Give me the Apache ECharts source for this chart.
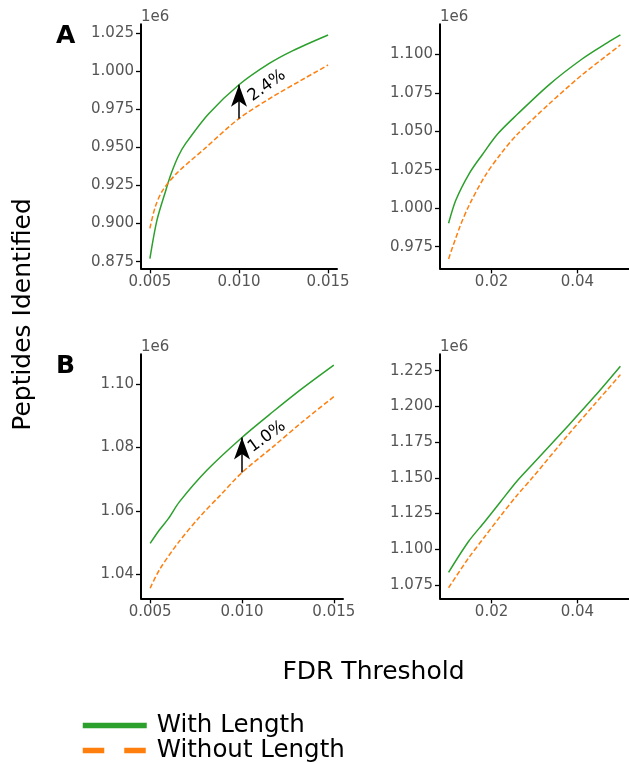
<!DOCTYPE html>
<html><head><meta charset="utf-8">
<script src="https://cdn.jsdelivr.net/npm/echarts@6/dist/echarts.min.js"></script>
<style>html,body{margin:0;padding:0;background:#fff}#c{width:629px;height:763px}</style>
</head><body><div id="c"></div>
<script>
// ---------- data (values in units of 1e6 peptides) ----------
const seriesNames = ['With Length', 'Without Length'];

// Panel A, narrow FDR range
const withLenA_narrow = [[0.005,0.877],[0.0054,0.9024],[0.0059,0.9221],[0.0062,0.933],[0.0066,0.9444],[0.007,0.9525],[0.0083,0.9722],[0.01,0.9912],[0.0117,1.0052],[0.013,1.0135],[0.015,1.0239]];
const withoutLenA_narrow = [[0.005,0.8969],[0.0053,0.911],[0.0057,0.9215],[0.0065,0.933],[0.008,0.9485],[0.01,0.969],[0.0119,0.9834],[0.0135,0.9942],[0.015,1.0042]];
// Panel A, wide FDR range
const withLenA_wide = [[0.01,0.9902],[0.0117,1.0053],[0.0148,1.0225],[0.0178,1.0346],[0.0215,1.0485],[0.026,1.061],[0.0335,1.0805],[0.041,1.0968],[0.047,1.1076],[0.05,1.1126]];
const withoutLenA_wide = [[0.01,0.967],[0.0125,0.987],[0.0148,1.002],[0.0185,1.021],[0.0222,1.0355],[0.026,1.048],[0.0335,1.068],[0.041,1.0865],[0.047,1.0996],[0.05,1.1061]];
// Panel B, narrow FDR range
const withLenB_narrow = [[0.005,1.0497],[0.0055,1.0539],[0.006,1.0576],[0.0066,1.0629],[0.0081,1.0729],[0.01,1.0832],[0.0117,1.0914],[0.0133,1.0988],[0.015,1.1061]];
const withoutLenB_narrow = [[0.005,1.0355],[0.0055,1.0413],[0.0065,1.0497],[0.0077,1.0581],[0.0088,1.0648],[0.01,1.0721],[0.0117,1.0803],[0.0133,1.0882],[0.015,1.0961]];
// Panel B, wide FDR range
const withLenB_wide = [[0.01,1.0839],[0.0146,1.1053],[0.0184,1.1193],[0.0221,1.1333],[0.0258,1.1473],[0.0296,1.1597],[0.038,1.187],[0.044,1.207],[0.05,1.2281]];
const withoutLenB_wide = [[0.01,1.0731],[0.0146,1.0937],[0.0184,1.1088],[0.0221,1.1233],[0.0258,1.1373],[0.0296,1.1504],[0.038,1.1807],[0.044,1.2015],[0.05,1.2222]];

// tick labels
const xTicksNarrow = [0.005, 0.010, 0.015];
const xTicksWide = [0.02, 0.04];
const yTicksA_narrow = [0.875, 0.900, 0.925, 0.950, 0.975, 1.000, 1.025];
const yTicksA_wide = [0.975, 1.000, 1.025, 1.050, 1.075, 1.100];
const yTicksB_narrow = [1.04, 1.06, 1.08, 1.10];
const yTicksB_wide = [1.075, 1.100, 1.125, 1.150, 1.175, 1.200, 1.225];

// annotations
const panelLetters = ['A', 'B'];
const gainLabels = ['2.4%', '1.0%'];
const annotFdr = 0.01;
const yTitle = 'Peptides Identified';
const xTitle = 'FDR Threshold';
const offsetText = '1e6';

// ---------- chart ----------
const FONT = 'DejaVu Sans';
const GREEN = '#2ca02c', ORANGE = '#ff7f0e', TICKC = '#555555';

function valAt(arr, x) { const p = arr.find(d => Math.abs(d[0] - x) < 1e-9); return p ? p[1] : null; }

const grids = [
  {left: 141, top: 24.33, width: 196, height: 244},
  {left: 440, top: 24.33, width: 196, height: 244},
  {left: 141, top: 354.33, width: 202, height: 244},
  {left: 440, top: 354.33, width: 196, height: 244}
];
const xRanges = [[0.0045,0.0155],[0.008,0.052],[0.0045,0.0155],[0.008,0.052]];
const yRanges = [[0.8706,1.0309],[0.9609,1.1195],[1.0323,1.1095],[1.0657,1.2364]];
const xTickSets = [xTicksNarrow, xTicksWide, xTicksNarrow, xTicksWide];
const xDec = [3,2,3,2];
const yTickSets = [yTicksA_narrow, yTicksA_wide, yTicksB_narrow, yTicksB_wide];
const yDec = [3,3,2,3];
const panelData = [
  [withLenA_narrow, withoutLenA_narrow],
  [withLenA_wide, withoutLenA_wide],
  [withLenB_narrow, withoutLenB_narrow],
  [withLenB_wide, withoutLenB_wide]
];

const axisLine = {show: true, onZero: false, lineStyle: {color: '#000', width: 2}};
const axisTickBase = {show: true, length: 5, lineStyle: {color: '#000', width: 1.3}};

const xAxis = grids.map((g, i) => ({
  type: 'value', gridIndex: i, min: xRanges[i][0], max: xRanges[i][1],
  axisLine, splitLine: {show: false},
  axisTick: Object.assign({customValues: xTickSets[i]}, axisTickBase),
  axisLabel: {customValues: xTickSets[i], formatter: v => v.toFixed(xDec[i]), color: TICKC,
              fontFamily: FONT, fontSize: 15, margin: 6, hideOverlap: false}
}));
const yAxis = grids.map((g, i) => ({
  type: 'value', gridIndex: i, min: yRanges[i][0], max: yRanges[i][1],
  axisLine, splitLine: {show: false},
  axisTick: Object.assign({customValues: yTickSets[i]}, axisTickBase),
  axisLabel: {customValues: yTickSets[i], formatter: v => v.toFixed(yDec[i]), color: TICKC,
              fontFamily: FONT, fontSize: 15, margin: 7, hideOverlap: false},
  name: offsetText, nameLocation: 'end', nameGap: 0,
  nameTextStyle: {align: 'left', verticalAlign: 'bottom', color: TICKC, fontFamily: FONT, fontSize: 15, padding: [0,0,0,0]}
}));

// label offsets are expressed in the rotated text frame
const ROT = 36 * Math.PI / 180;
function rotOffset(sx, sy) {
  return [sx * Math.cos(ROT) - sy * Math.sin(ROT), sx * Math.sin(ROT) + sy * Math.cos(ROT)];
}

const series = [];
panelData.forEach((pair, i) => {
  const [withArr, withoutArr] = pair;
  const isNarrow = (i === 0 || i === 2);
  const k = i === 0 ? 0 : 1;
  const w = {
    type: 'line', name: seriesNames[0], xAxisIndex: i, yAxisIndex: i, data: withArr,
    symbol: 'none', smooth: 0.3, color: GREEN,
    lineStyle: {color: GREEN, width: 1.5}, z: 3, animation: false
  };
  const o = {
    type: 'line', name: seriesNames[1], xAxisIndex: i, yAxisIndex: i, data: withoutArr,
    symbol: 'none', smooth: 0.3, color: ORANGE,
    lineStyle: {color: ORANGE, width: 1.5, type: [5, 2.5]}, z: 4, animation: false
  };
  if (isNarrow) {
    const gv = valAt(withArr, annotFdr), ov = valAt(withoutArr, annotFdr);
    w.markLine = {
      silent: true, animation: false,
      symbol: ['none', 'arrow'], symbolSize: [12, 22],
      lineStyle: {color: '#000', width: 1.5, type: 'solid'},
      label: {show: false},
      data: [[{coord: [annotFdr, ov]}, {coord: [annotFdr, gv]}]]
    };
    w.markPoint = {
      silent: true, animation: false, symbol: 'circle', symbolSize: 0,
      itemStyle: {color: 'rgba(0,0,0,0)'},
      label: {show: true, position: 'inside', formatter: gainLabels[k], rotate: 36,
              offset: k === 0 ? rotOffset(28, 1) : rotOffset(25, -0.7),
              color: '#000', fontFamily: FONT, fontSize: 16.5},
      data: [{coord: [annotFdr, gv]}]
    };
  }
  series.push(w, o);
});

const option = {
  animation: false,
  backgroundColor: '#fff',
  grid: grids,
  xAxis, yAxis, series,
  legend: {
    orient: 'vertical', left: 80, top: 713, height: 120, padding: 0, itemWidth: 64, itemHeight: 1, itemGap: 0,
    selectedMode: false,
    itemStyle: {color: 'rgba(0,0,0,0)', borderWidth: 0, opacity: 0},
    textStyle: {fontFamily: FONT, fontSize: 24.5, color: '#000', padding: [0,0,0,5]},
    data: [
      {name: seriesNames[0], lineStyle: {width: 5.5}},
      {name: seriesNames[1], lineStyle: {width: 5.5, type: [21.5, 20]}}
    ]
  },
  graphic: [
    {type: 'text', left: 56, top: 24, style: {text: panelLetters[0], font: 'bold 25px "DejaVu Sans"', fill: '#000'}},
    {type: 'text', left: 56, top: 354, style: {text: panelLetters[1], font: 'bold 25px "DejaVu Sans"', fill: '#000'}},
    {type: 'text', x: 23, y: 314.5, rotation: Math.PI / 2,
     style: {text: yTitle, font: '25px "DejaVu Sans"', fill: '#000', align: 'center', verticalAlign: 'middle'}},
    {type: 'text', x: 373.5, y: 672,
     style: {text: xTitle, font: '25px "DejaVu Sans"', fill: '#000', align: 'center', verticalAlign: 'middle'}}
  ]
};

const chart = echarts.init(document.getElementById('c'), null, {renderer: 'canvas'});
chart.setOption(option);
</script>
</body></html>
